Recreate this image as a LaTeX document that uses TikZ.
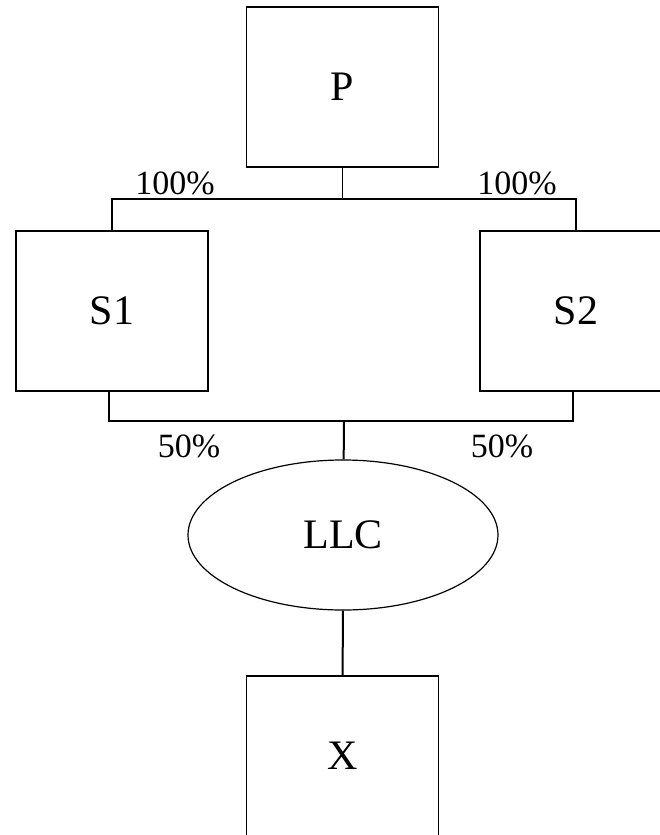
\documentclass[tikz,border=0pt]{standalone}
\usepackage{fontspec}
\setmainfont{Liberation Serif}
\usetikzlibrary{shapes.geometric, positioning}

\begin{document}
\begin{tikzpicture}[
  x=1pt, y=-1pt,
  company/.style={rectangle, draw, line width=1.2pt, minimum width=192pt, minimum height=160pt, font=\fontsize{42}{50}\selectfont},
  venture/.style={ellipse, draw, line width=1.2pt, minimum width=310pt, minimum height=150pt, font=\fontsize{42}{50}\selectfont},
  link/.style={line width=1.2pt},
  heavylink/.style={line width=2pt},
  share/.style={font=\fontsize{34}{40}\selectfont, inner sep=0pt}
]
\useasboundingbox (0,0) rectangle (660,835);
\clip (0,0) rectangle (660,835);

\node[company] (P) at (342.5,87) {P};
\node[company] (S1) at (112,311) {S1};
\node[company] (S2) at (576,311) {S2};
\node[venture] (LLC) at (343,535) {LLC};
\node[company] (X) at (342.5,756) {X};

\coordinate (jtop) at (342.5,199);
\coordinate (jbot) at (344,421);

\draw[link] (P) -- (jtop);
\draw[link] (S1) |- (jtop) -| (S2);
\draw[heavylink] ([xshift=-3pt]S1.south) |- (jbot) -| ([xshift=-3pt]S2.south);
\draw[heavylink] (jbot) -- (LLC);
\draw[heavylink] (LLC) -- (X);

\node[share] (ownS1) at (175,183) {100\%};
\node[share] (ownS2) at (517,183) {100\%};
\node[share] (llcS1) at (189,446) {50\%};
\node[share] (llcS2) at (502,446) {50\%};

\end{tikzpicture}
\end{document}
